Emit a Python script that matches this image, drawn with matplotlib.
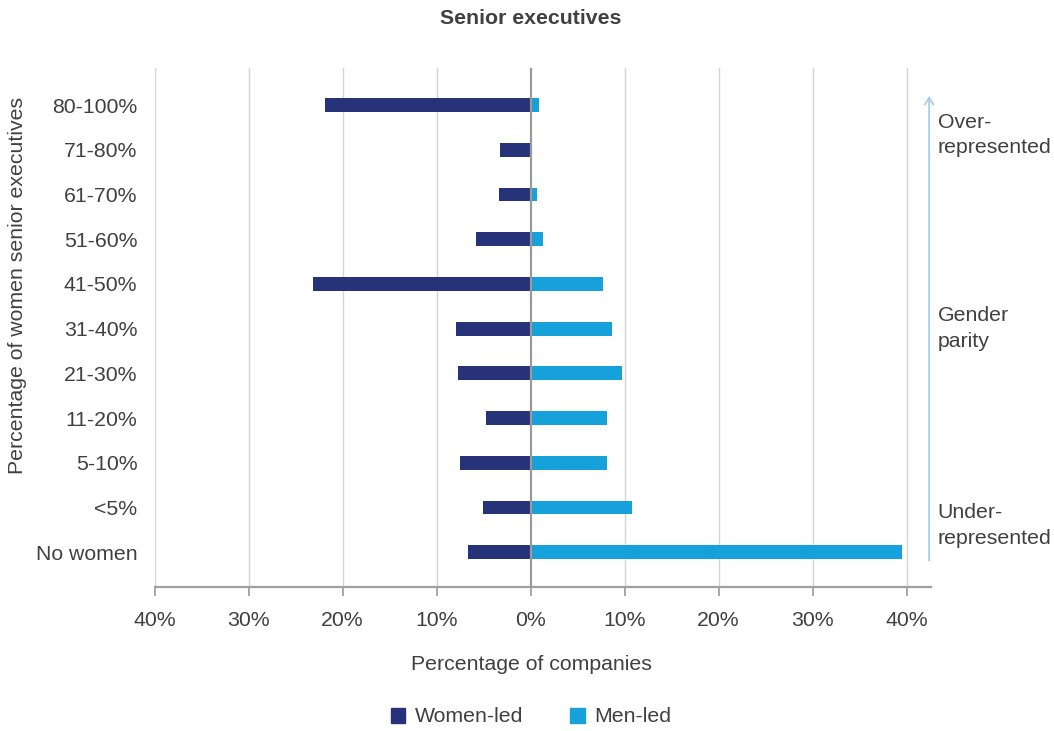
import numpy as np
import matplotlib.pyplot as plt
from matplotlib.patches import Patch

plt.rcParams['font.family'] = ['Liberation Sans', 'DejaVu Sans']

# share of companies (%) by proportion of women senior executives
categories = ['No women', '<5%', '5-10%', '11-20%', '21-30%', '31-40%',
              '41-50%', '51-60%', '61-70%', '71-80%', '80-100%']
women_led = [6.7, 5.1, 7.5, 4.7, 7.7, 7.9, 23.2, 5.8, 3.4, 3.3, 21.9]
men_led = [39.5, 10.8, 8.1, 8.1, 9.7, 8.7, 7.7, 1.3, 0.7, 0.15, 0.9]
xticks = [-40, -30, -20, -10, 0, 10, 20, 30, 40]
zones = ['Over-\nrepresented', 'Gender\nparity', 'Under-\nrepresented']
zone_pos = [9.33, 5.0, 0.6]

NAVY = '#273378'
BLUE = '#16a1db'
TXT = '#404040'
FS = 15.3
W, H = 1054, 731

fig = plt.figure(figsize=(W / 100, H / 100), dpi=100)
ax = fig.add_axes([154.7 / W, 1 - 587 / H, (931 - 154.7) / W, (587 - 68) / H])

y = np.arange(len(categories))
ax.barh(y, -np.array(women_led), height=0.31, color=NAVY, zorder=3)
ax.barh(y, men_led, height=0.31, color=BLUE, zorder=3)

for t in xticks:
    if t == 0:
        ax.axvline(t, color='#9a9a9a', lw=1.6, zorder=4)
    else:
        ax.axvline(t, color='#d4d4d4', lw=1.0, zorder=1)

ax.set_xlim(-40, 42.6)
ax.set_ylim(-0.78, 10.83)
ax.set_xticks(xticks)
ax.set_xticklabels(['%d%%' % abs(t) for t in xticks])
ax.set_yticks(y)
ax.set_yticklabels(categories)
ax.tick_params(axis='x', length=6.5, width=1.3, color='#a0a0a0', pad=11,
               labelsize=FS, labelcolor=TXT)
ax.tick_params(axis='y', length=0, pad=12.5, labelsize=FS, labelcolor=TXT)
for s in ['left', 'right', 'top']:
    ax.spines[s].set_visible(False)
ax.spines['bottom'].set_color('#a0a0a0')
ax.spines['bottom'].set_linewidth(1.6)

# arrow and zone labels on the right
ax.annotate('', xy=(42.4, 10.27), xytext=(42.4, -0.25),
            arrowprops=dict(arrowstyle='->,head_length=0.5,head_width=0.3',
                            color='#a6cdee', lw=1.3),
            annotation_clip=False)
for label, pos in zip(zones, zone_pos):
    ax.text(43.3, pos, label, ha='left', va='center', fontsize=FS,
            color=TXT, linespacing=1.45, clip_on=False)

fig.text(531 / W, 1 - 18 / H, 'Senior executives', ha='center', va='center',
         fontsize=FS, fontweight='bold', color=TXT)
fig.text(531 / W, 1 - 665 / H, 'Percentage of companies', ha='center',
         va='center', fontsize=FS, color=TXT)
fig.text(18 / W, 1 - 285 / H, 'Percentage of women senior executives',
         rotation=90, ha='center', va='center', fontsize=FS, color=TXT)

handles = [Patch(color=NAVY, label='Women-led'), Patch(color=BLUE, label='Men-led')]
fig.legend(handles=handles, loc='center', bbox_to_anchor=(531 / W, 1 - 717 / H),
           ncol=2, frameon=False, fontsize=FS, labelcolor=TXT,
           handlelength=0.7, handleheight=0.7, handletextpad=0.45,
           columnspacing=2.2)

fig.savefig('out.png', dpi=100)
